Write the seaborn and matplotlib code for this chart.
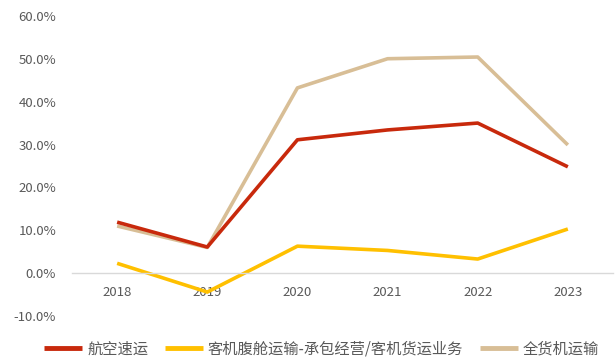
import matplotlib
matplotlib.use("Agg")
import matplotlib.pyplot as plt
import seaborn as sns
import pandas as pd

years = ["2018", "2019", "2020", "2021", "2022", "2023"]
express = [11.9, 6.1, 31.1, 33.4, 35.0, 24.8]
belly = [2.3, -4.4, 6.3, 5.3, 3.3, 10.3]
freighter = [11.0, 6.0, 43.2, 50.0, 50.4, 29.9]
series_names = ["航空速运", "客机腹舱运输-承包经营/客机货运业务", "全货机运输"]
colors = ["#C8290C", "#FFC000", "#D8BE96"]

sns.set_theme(style="white")
plt.rcParams["font.family"] = ["Noto Sans CJK SC", "DejaVu Sans"]

rows = []
for name, vals in zip(series_names, [express, belly, freighter]):
    for i, (yr, v) in enumerate(zip(years, vals)):
        rows.append({"pos": i, "year": yr, "value": v, "series": name})
df = pd.DataFrame(rows)

fig = plt.figure(figsize=(6.16, 3.6), dpi=100)
ax = fig.add_axes([0.117, 0.122, 0.878, 0.834])

# draw order so the freighter line sits beneath the express line
order = [series_names[2], series_names[1], series_names[0]]
for name in order:
    sub = df[df["series"] == name]
    sns.lineplot(data=sub, x="pos", y="value", ax=ax, color=colors[series_names.index(name)],
                 linewidth=2.6, label=name, legend=False, solid_capstyle="butt")

ax.set_xlim(-0.5, 5.5)
ax.set_ylim(-10, 60)
ax.set_yticks([-10, 0, 10, 20, 30, 40, 50, 60])
ax.set_yticklabels([f"{v:.1f}%" for v in [-10, 0, 10, 20, 30, 40, 50, 60]])
ax.set_xticks(range(len(years)))
ax.set_xticklabels(years)
ax.set_xlabel("")
ax.set_ylabel("")

for s in ["top", "right", "left"]:
    ax.spines[s].set_visible(False)
ax.spines["bottom"].set_position(("data", 0))
ax.spines["bottom"].set_color("#D9D9D9")
ax.spines["bottom"].set_linewidth(1.0)
ax.tick_params(axis="x", length=0, pad=9, labelsize=9.5, labelcolor="#595959")
ax.tick_params(axis="y", length=0, pad=11.5, labelsize=9.5, labelcolor="#595959")
ax.grid(False)

handles = {h.get_label(): h for h in ax.get_lines()}
leg = fig.legend([handles[n] for n in series_names], series_names,
                 loc="center", bbox_to_anchor=(0.522, 0.03), ncol=3, frameon=False,
                 fontsize=11, handlelength=2.5, handletextpad=0.3, columnspacing=1.1)
for t in leg.get_texts():
    t.set_color("#595959")
for l in leg.get_lines():
    l.set_linewidth(3.5)

fig.savefig("out.png", dpi=100)
